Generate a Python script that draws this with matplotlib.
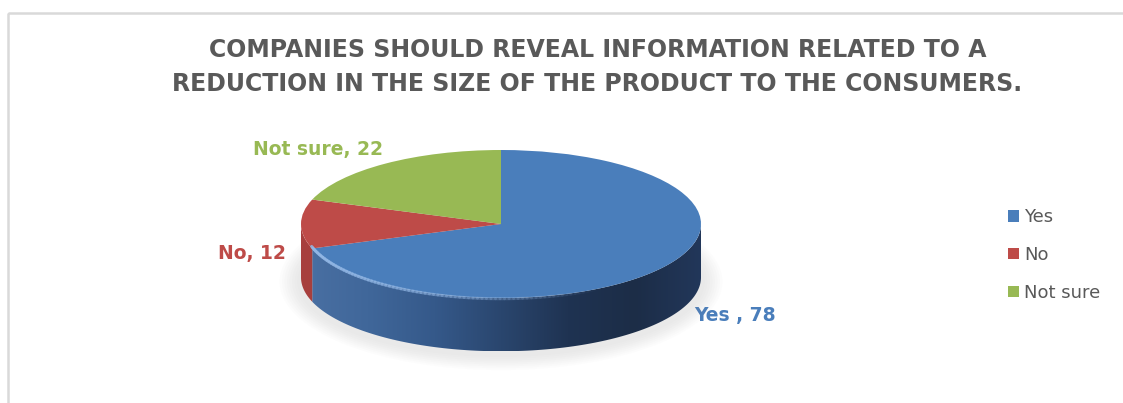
import numpy as np
import matplotlib.pyplot as plt
from matplotlib.colors import LinearSegmentedColormap, to_rgba
from matplotlib.collections import LineCollection
from matplotlib.patches import Polygon, Rectangle, Ellipse

labels = ["Yes", "No", "Not sure"]
values = [78, 12, 22]
data_labels = ["Yes , 78", "No, 12", "Not sure, 22"]
colors = ["#4a7ebb", "#be4b48", "#98b954"]
side_colors = [["#4a70a3", "#40679a", "#35598a", "#2a466e", "#1f3352", "#1c2d47", "#22375a"],
               ["#a8403e", "#963735"],
               ["#84a24a", "#738d40"]]

title = ("COMPANIES SHOULD REVEAL INFORMATION RELATED TO A\n"
         "REDUCTION IN THE SIZE OF THE PRODUCT TO THE CONSUMERS.")

W, H = 1123, 403
fig = plt.figure(figsize=(W / 100, H / 100), dpi=100)
fig.patch.set_facecolor("white")

# background axes in pixel coordinates for the frame and labels
bg = fig.add_axes([0, 0, 1, 1])
bg.set_xlim(0, W)
bg.set_ylim(H, 0)
bg.axis("off")
bg.add_patch(Rectangle((8, 13), W + 20, H + 20, fill=False, edgecolor="#d9d9d9", lw=1.8))

fig.text(0.532, 1 - 67 / H, title, ha="center", va="center", fontsize=17,
         fontweight="bold", color="#595959", linespacing=1.55)

# pie axes: 200 px per unit horizontally, 74 px per unit vertically
cx, cy, rx, ry = 501, 224, 200, 74
xl, yl_top, yl_bot = 1.25, 1.25, 2.0
left = (cx - xl * rx) / W
width = 2 * xl * rx / W
bottom = 1 - (cy + yl_bot * ry) / H
height = (yl_top + yl_bot) * ry / H
ax = fig.add_axes([left, bottom, width, height])

depth = 0.72

# soft shadow under the disc
for k in range(8):
    ax.add_patch(Ellipse((0.0, -depth - 0.06), 2.04 + k * 0.025, 2.04 + k * 0.05,
                         facecolor="#9a9a9a", edgecolor="none", alpha=0.025, zorder=0))

wedges, _ = ax.pie(values, colors=colors, startangle=90, counterclock=False,
                   wedgeprops=dict(linewidth=0), radius=1.0)
ax.set_aspect("auto")
ax.set_xlim(-xl, xl)
ax.set_ylim(-yl_bot, yl_top)
for w in wedges:
    w.set_zorder(3)

# side walls of the visible front half
angles = np.cumsum([0] + values) / sum(values) * 360
for i, w in enumerate(wedges):
    lo = (90 - angles[i + 1]) % 360
    hi = (90 - angles[i]) % 360
    if hi <= lo:
        hi += 360
    s, e = max(lo, 180), min(hi, 360)
    if e <= s:
        s, e = max(lo - 360, 180), min(hi - 360, 360)
    if e <= s:
        continue
    t = np.radians(np.linspace(s, e, 120))
    xs = np.cos(t)
    ys = np.sin(t)
    pts = np.column_stack([np.r_[xs, xs[::-1]], np.r_[ys, ys[::-1] - depth]])
    poly = Polygon(pts, closed=True, facecolor="none", edgecolor="none", zorder=2)
    ax.add_patch(poly)
    cmap = LinearSegmentedColormap.from_list("side%d" % i, side_colors[i])
    grad = np.linspace(0, 1, 256).reshape(1, -1)
    im = ax.imshow(grad, cmap=cmap, aspect="auto", extent=(-1, 1, -1 - depth, 0.2),
                   zorder=2, interpolation="bicubic")
    im.set_clip_path(poly)

# light rim along the front edge of the top face, fading to the right
t = np.radians(np.linspace(196, 300, 80))
rim = np.column_stack([np.cos(t) * 0.985, np.sin(t) * 0.975 - 0.035])
segs = np.stack([rim[:-1], rim[1:]], axis=1)
fade = np.linspace(0.85, 0.0, len(segs))
rim_cols = [to_rgba("#93b8e6", a) for a in fade]
ax.add_collection(LineCollection(segs, colors=rim_cols, linewidths=2.2, zorder=4,
                                 capstyle="round"))

ax.axis("off")

# data labels
bg.text(735, 316, data_labels[0], color="#4a7ebb", fontsize=13.5, fontweight="bold",
        ha="center", va="center")
bg.text(252, 253, data_labels[1], color="#be4b48", fontsize=13.5, fontweight="bold",
        ha="center", va="center")
bg.text(318, 150, data_labels[2], color="#98b954", fontsize=13.5, fontweight="bold",
        ha="center", va="center")

# legend
leg = bg.legend(wedges, labels, loc="center left", bbox_to_anchor=(992 / W, 1 - 255 / H),
                bbox_transform=fig.transFigure, frameon=False,
                handlelength=0.6, handleheight=0.6, handletextpad=0.3,
                labelspacing=1.1, prop=dict(size=13))
for txt in leg.get_texts():
    txt.set_color("#595959")

fig.savefig("out.png", dpi=100)
